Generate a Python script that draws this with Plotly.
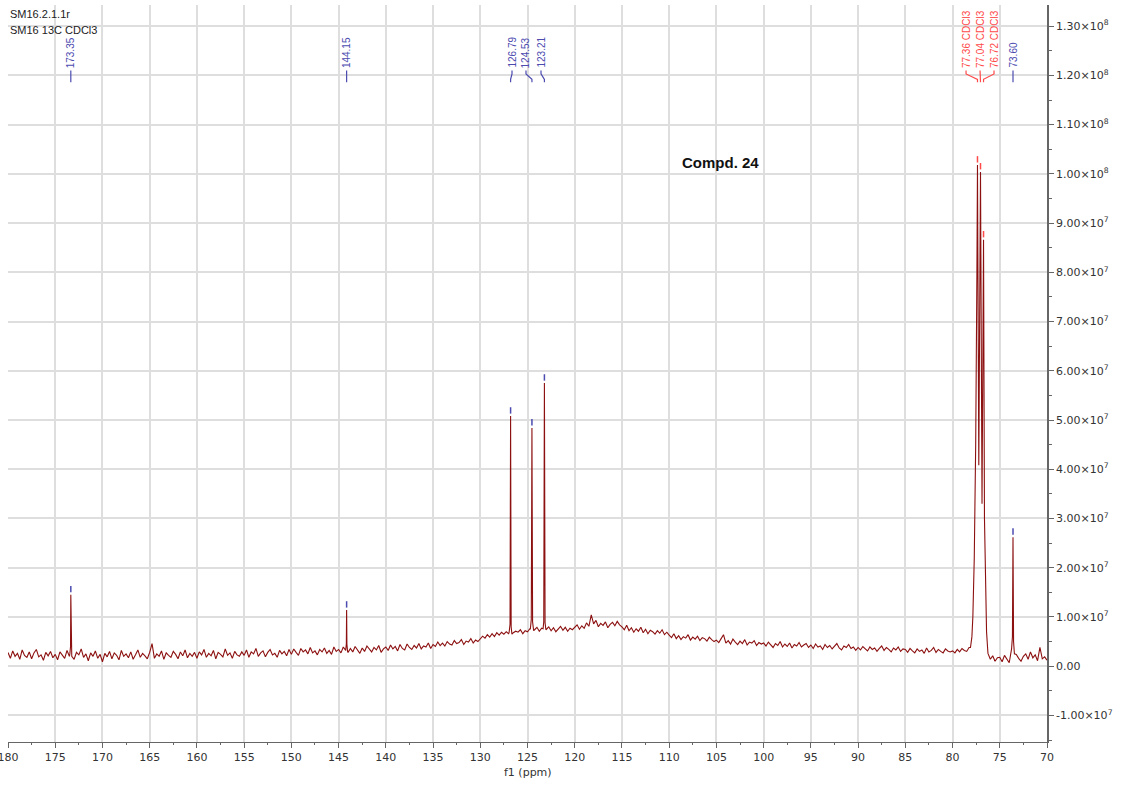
import numpy as np
import plotly.graph_objects as go

# ---------------- data (intensities in units of 1e6) ----------------
# baseline samples every 0.25 ppm from 180 down to 70 ppm
base_vals = [
    2.8,1.6,3.1,2.0,2.6,1.4,3.3,2.2,1.8,2.9,1.5,2.7,3.4,1.9,2.3,1.2,2.8,2.1,3.0,1.7,
    2.4,1.3,2.9,2.2,1.6,3.2,2.0,2.6,1.4,2.8,2.3,3.5,1.8,2.5,1.1,2.7,2.0,3.1,1.6,2.4,
    0.9,2.6,1.9,3.0,1.5,2.7,2.2,1.3,3.2,2.0,2.5,1.7,2.9,1.4,2.3,3.3,1.8,2.6,2.1,1.5,
    2.8,4.6,1.6,2.5,2.0,3.1,1.4,2.7,2.2,1.8,3.0,2.4,1.5,2.9,2.1,3.3,1.7,2.6,2.0,2.8,
    1.6,2.9,2.3,3.4,1.8,2.6,2.1,3.2,1.5,2.8,2.4,1.9,3.5,2.2,2.7,1.6,3.0,2.3,2.0,2.9,
    2.2,3.3,1.8,2.9,2.5,3.6,2.0,2.7,3.1,1.9,2.8,3.4,2.3,2.6,1.8,3.2,2.5,3.0,2.1,3.4,
    2.4,3.5,2.8,2.2,3.6,2.9,3.3,2.5,3.8,2.7,3.1,2.3,3.4,2.9,3.7,2.6,3.2,2.4,3.9,3.0,
    3.4,2.7,3.9,3.1,2.8,3.6,2.9,4.0,3.2,2.6,3.7,3.0,4.1,3.4,2.9,3.8,3.3,4.2,2.8,3.5,
    3.9,3.2,4.3,3.5,4.0,3.1,4.4,3.6,3.3,4.5,3.8,3.4,4.2,3.7,4.6,3.5,4.1,3.9,4.7,3.6,
    4.4,4.0,4.9,4.2,4.7,4.1,5.0,4.5,4.3,5.2,4.6,4.8,5.4,4.4,5.1,4.9,5.6,4.7,5.3,5.0,
    5.5,6.1,5.7,6.4,5.9,6.6,6.0,6.8,6.3,6.9,6.5,7.0,6.6,7.3,6.8,7.1,6.9,7.4,6.6,7.2,
    7.0,7.6,6.8,7.4,7.9,7.1,7.7,6.9,7.5,8.0,7.2,7.8,7.0,7.6,8.1,7.3,7.9,7.1,7.7,7.4,
    7.9,8.4,7.5,8.2,7.7,8.8,8.1,10.4,8.6,9.3,8.0,8.7,8.3,9.0,7.8,8.5,8.9,8.2,9.1,8.4,
    8.0,7.4,8.3,7.2,7.8,6.9,7.6,7.1,7.9,6.8,7.5,6.6,7.3,7.0,6.5,7.2,6.7,7.4,6.4,6.9,
    6.3,5.8,6.6,5.6,6.2,5.4,6.0,5.7,6.4,5.3,5.9,5.5,6.1,5.2,5.8,5.6,5.1,5.9,5.4,5.0,
    5.3,4.8,5.6,6.4,4.7,5.2,4.5,5.5,4.9,4.4,5.1,4.6,5.4,4.3,4.9,4.7,5.2,4.2,4.8,4.5,
    4.7,4.1,4.9,4.3,3.8,4.6,4.2,5.0,3.9,4.5,4.0,4.7,3.7,4.4,4.1,4.8,3.9,4.3,4.6,3.8,
    4.3,3.6,4.5,3.9,4.1,3.4,4.4,3.8,4.2,3.5,4.0,4.6,3.7,3.3,4.1,3.8,4.4,3.6,3.9,3.2,
    3.8,3.3,4.0,3.5,3.1,3.9,3.4,3.7,3.0,3.6,4.1,3.2,3.8,3.4,2.9,3.7,3.3,3.9,3.0,3.5,
    3.4,2.8,3.6,3.1,2.7,3.5,3.0,3.3,2.6,3.7,2.9,3.2,3.8,2.8,3.4,3.0,2.7,3.5,3.1,2.9,
    3.1,2.7,3.4,2.9,3.6,3.2,3.0,3.8,4.5,20.0,60.0,70.0,90.0,60.0,16.0,2.6,1.4,2.1,1.0,1.7,
    1.8,0.9,2.2,1.5,0.7,1.9,1.3,2.4,1.6,1.0,2.0,2.5,1.4,2.9,1.7,2.3,1.1,3.8,1.5,1.9,
    1.2,
]
base_ppm = 180.0 - 0.25 * np.arange(len(base_vals))

# peak clusters: (ppm list, intensity list)
peak_173_ppm = [173.45, 173.38, 173.35, 173.32, 173.25]
peak_173_int = [2.5, 4.0, 14.5, 4.0, 2.0]
peak_144_ppm = [144.25, 144.18, 144.15, 144.12, 144.05]
peak_144_int = [3.2, 4.5, 11.4, 4.5, 3.0]
peak_127_ppm = [126.95, 126.85, 126.79, 126.73, 126.65]
peak_127_int = [6.8, 8.5, 50.8, 8.0, 6.5]
peak_125_ppm = [124.70, 124.60, 124.53, 124.46, 124.35]
peak_125_int = [7.5, 9.5, 48.4, 9.0, 7.2]
peak_123_ppm = [123.35, 123.28, 123.21, 123.14, 123.05]
peak_123_int = [7.6, 9.0, 57.5, 8.8, 7.4]
peak_cdcl3_ppm = [78.10, 77.95, 77.85, 77.70, 77.55, 77.42, 77.36, 77.22, 77.04,
                  76.88, 76.72, 76.62, 76.50, 76.40, 76.30]
peak_cdcl3_int = [3.8, 6.0, 10.0, 22.0, 45.0, 80.0, 101.8, 40.8, 100.4,
                  33.0, 86.6, 30.0, 16.0, 7.0, 4.0]
peak_74_ppm = [73.75, 73.66, 73.60, 73.54, 73.45]
peak_74_int = [3.5, 6.0, 26.2, 5.0, 2.5]

clusters = [
    (peak_173_ppm, peak_173_int), (peak_144_ppm, peak_144_int),
    (peak_127_ppm, peak_127_int), (peak_125_ppm, peak_125_int),
    (peak_123_ppm, peak_123_int), (peak_cdcl3_ppm, peak_cdcl3_int),
    (peak_74_ppm, peak_74_int),
]

# peak labels
label_text = ["173.35", "144.15", "126.79", "124.53", "123.21",
              "77.36 CDCl3", "77.04 CDCl3", "76.72 CDCl3", "73.60"]
label_peak = [173.35, 144.15, 126.79, 124.53, 123.21, 77.36, 77.04, 76.72, 73.60]
label_height = [14.5, 11.4, 50.8, 48.4, 57.5, 101.8, 100.4, 86.6, 26.2]
label_is_solvent = [False, False, False, False, False, True, True, True, False]
label_textpos = [173.35, 144.15, 126.64, 125.16, 123.57, 78.57, 77.09, 75.61, 73.60]

x_ticks = list(range(180, 69, -5))
y_tickvals = [v * 1e7 for v in range(-1, 14)]
y_ticktext = ["-1.00×10<sup>7</sup>", "0.00"] + \
    [f"{v}.00×10<sup>7</sup>" for v in range(1, 10)] + \
    ["1.00×10<sup>8</sup>", "1.10×10<sup>8</sup>", "1.20×10<sup>8</sup>", "1.30×10<sup>8</sup>"]

# ---------------- merge spectrum ----------------
keep = np.ones(len(base_ppm), dtype=bool)
for p, _ in clusters:
    keep &= ~((base_ppm <= max(p)) & (base_ppm >= min(p)))
all_ppm = list(base_ppm[keep])
all_int = list(np.array(base_vals)[keep])
for p, v in clusters:
    all_ppm += p
    all_int += v
order = np.argsort(all_ppm)[::-1]
spec_x = np.array(all_ppm)[order]
spec_y = np.array(all_int)[order] * 1e6

BLUE = "#4b4bb0"
RED = "#ff4a4a"
LINE = "#8c1010"

fig = go.Figure()
fig.add_trace(go.Scatter(x=spec_x, y=spec_y, mode="lines",
                         line=dict(color=LINE, width=1.1), hoverinfo="skip",
                         showlegend=False))

# peak-top markers and leader lines
for col, solv in ((BLUE, False), (RED, True)):
    mx, my, lx, ly = [], [], [], []
    for t, pk, h, s, tp in zip(label_text, label_peak, label_height,
                               label_is_solvent, label_textpos):
        if s != solv:
            continue
        mx += [pk, pk, None]
        my += [(h + 0.5) * 1e6, (h + 1.8) * 1e6, None]
        lx += [tp, tp, pk, pk, None]
        ly += [121.0e6, 120.3e6, 119.2e6, 118.6e6, None]
    fig.add_trace(go.Scatter(x=mx, y=my, mode="lines", line=dict(color=col, width=1.5),
                             hoverinfo="skip", showlegend=False))
    fig.add_trace(go.Scatter(x=lx, y=ly, mode="lines", line=dict(color=col, width=1.2),
                             hoverinfo="skip", showlegend=False))

annotations = []
for t, s, tp in zip(label_text, label_is_solvent, label_textpos):
    annotations.append(dict(x=tp, y=121.3e6, xref="x", yref="y", text=t,
                            textangle=-90, showarrow=False, xanchor="center",
                            yanchor="bottom", borderpad=0,
                            font=dict(family="Liberation Sans", size=10,
                                      color=RED if s else BLUE)))

annotations += [
    dict(x=0.0, y=0.988, xref="paper", yref="paper", text="SM16.2.1.1r",
         showarrow=False, xanchor="left", yanchor="middle",
         font=dict(family="Liberation Sans", size=11, color="#222")),
    dict(x=0.0, y=0.966, xref="paper", yref="paper", text="SM16 13C CDCl3",
         showarrow=False, xanchor="left", yanchor="middle",
         font=dict(family="Liberation Sans", size=11, color="#222")),
    dict(x=104.6, y=102.4e6, xref="x", yref="y", text="<b>Compd. 24</b>",
         showarrow=False, xanchor="center", yanchor="middle",
         font=dict(family="Liberation Sans", size=15, color="#111")),
    dict(x=125.0, y=-0.042, xref="x", yref="paper", text="f1 (ppm)",
         showarrow=False, xanchor="center", yanchor="middle",
         font=dict(family="DejaVu Sans", size=11, color="#333")),
]

fig.update_layout(
    width=1121, height=785,
    margin=dict(l=8, r=74, t=5, b=43),
    paper_bgcolor="white", plot_bgcolor="white",
    showlegend=False,
    annotations=annotations,
    xaxis=dict(range=[180, 70], tickvals=x_ticks, ticktext=[str(v) for v in x_ticks],
               showgrid=True, gridcolor="#dedede", gridwidth=1.5,
               zeroline=False, showline=True, linecolor="#666", linewidth=1,
               ticks="outside", ticklen=5, tickcolor="#666",
               minor=dict(dtick=2.5, ticks="outside", ticklen=2, tickcolor="#666",
                          showgrid=False),
               tickfont=dict(family="DejaVu Sans", size=11, color="#333"),
               ticklabeloverflow="allow", automargin=False),
    yaxis=dict(range=[-15.4e6, 134.3e6], side="right",
               tickvals=y_tickvals, ticktext=y_ticktext,
               showgrid=True, gridcolor="#dedede", gridwidth=1.5,
               zeroline=False, showline=True, linecolor="#666", linewidth=1.5,
               ticks="outside", ticklen=5, tickcolor="#666",
               minor=dict(dtick=5e6, ticks="outside", ticklen=3, tickcolor="#666",
                          showgrid=False),
               tickfont=dict(family="DejaVu Sans", size=11, color="#333"),
               ticklabeloverflow="allow", automargin=False),
)

fig.write_html("out.html", config={"displayModeBar": False},
               post_script="document.body.style.margin='0px';")
